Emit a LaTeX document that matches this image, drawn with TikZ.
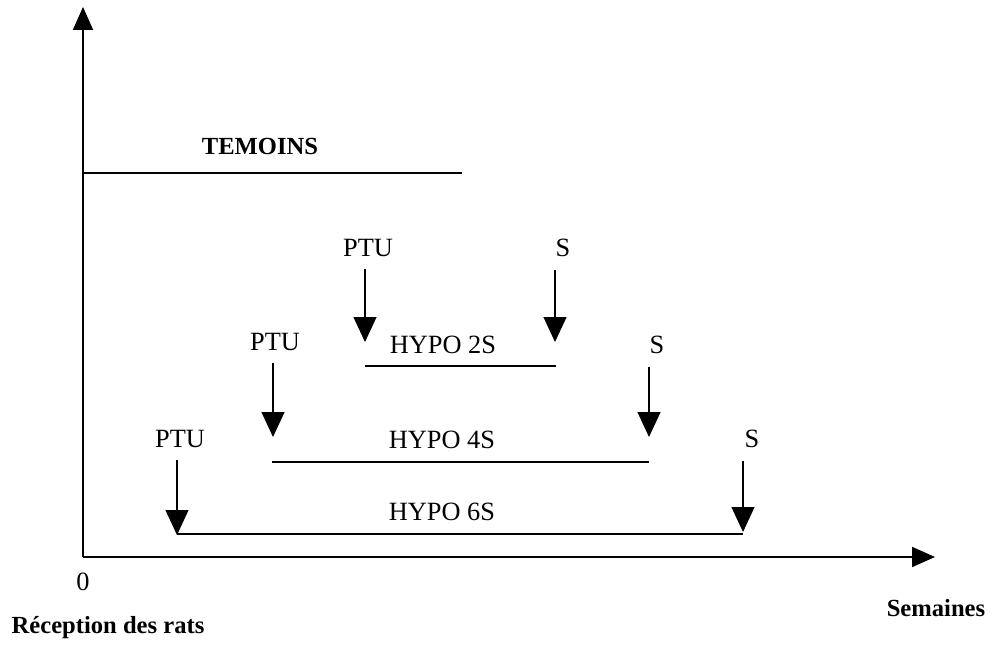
\documentclass[tikz,border=0pt]{standalone}
\usepackage{fontspec}
\setmainfont{Liberation Serif}
\usetikzlibrary{arrows.meta}

\begin{document}
\begin{tikzpicture}[x=0.02cm, y=-0.02cm,
        lbl/.style={inner sep=0pt, font=\fontsize{15}{18}\selectfont},
        bold/.style={inner sep=0pt, font=\fontsize{14}{16}\selectfont\bfseries},
        axis/.style={line width=1.1pt, -{Triangle[length=0.46cm, width=0.4cm]}},
        period/.style={line width=1.1pt},
        drop/.style={line width=0.6pt, shorten <=7pt, -{Triangle[length=0.5cm, width=0.46cm]}}]
        \useasboundingbox (0,0) rectangle (997,651);

        \coordinate (o) at (83,557);
        \coordinate (ytop) at (83,7);
        \coordinate (xend) at (935,557);
        \coordinate (tem) at (83,173);
        \coordinate (temend) at (462,173);

        \coordinate (a1) at (365,366);
        \coordinate (a2) at (556,366);
        \coordinate (b1) at (272,462);
        \coordinate (b2) at (649,462);
        \coordinate (c1) at (177,534);
        \coordinate (c2) at (743,534);

        \coordinate (ta1) at (365,342);
        \coordinate (ta2) at (555,342);
        \coordinate (tb1) at (273,437);
        \coordinate (tb2) at (649,437);
        \coordinate (tc1) at (177,535);
        \coordinate (tc2) at (743,532);

        \node[bold] (temoins) at (260,146) {TEMOINS};
        \node[lbl] (ptuA) at (368,248) {PTU};
        \node[lbl] (sA) at (563,248) {S};
        \node[lbl] (hypoA) at (443,345) {HYPO 2S};
        \node[lbl] (ptuB) at (275,342) {PTU};
        \node[lbl] (sB) at (657,345) {S};
        \node[lbl] (hypoB) at (442,440) {HYPO 4S};
        \node[lbl] (ptuC) at (180,439) {PTU};
        \node[lbl] (sC) at (752,439) {S};
        \node[lbl] (hypoC) at (442,512) {HYPO 6S};
        \node[lbl] (zero) at (83,582) {0};
        \node[bold] (reception) at (108,628) {Réception des rats};
        \node[bold] (semaines) at (936,608) {Semaines};

        \draw[axis] (o) to (ytop);
        \draw[axis] (o) to (xend);
        \draw[period] (tem) to (temend)
            (a1) to (a2)
            (b1) to (b2)
            (c1) to (c2);
        \draw[drop] (ptuA.south -| ta1) to (ta1);
        \draw[drop] (sA.south -| ta2) to (ta2);
        \draw[drop] (ptuB.south -| tb1) to (tb1);
        \draw[drop] (sB.south -| tb2) to (tb2);
        \draw[drop] (ptuC.south -| tc1) to (tc1);
        \draw[drop] (sC.south -| tc2) to (tc2);
\end{tikzpicture}
\end{document}
